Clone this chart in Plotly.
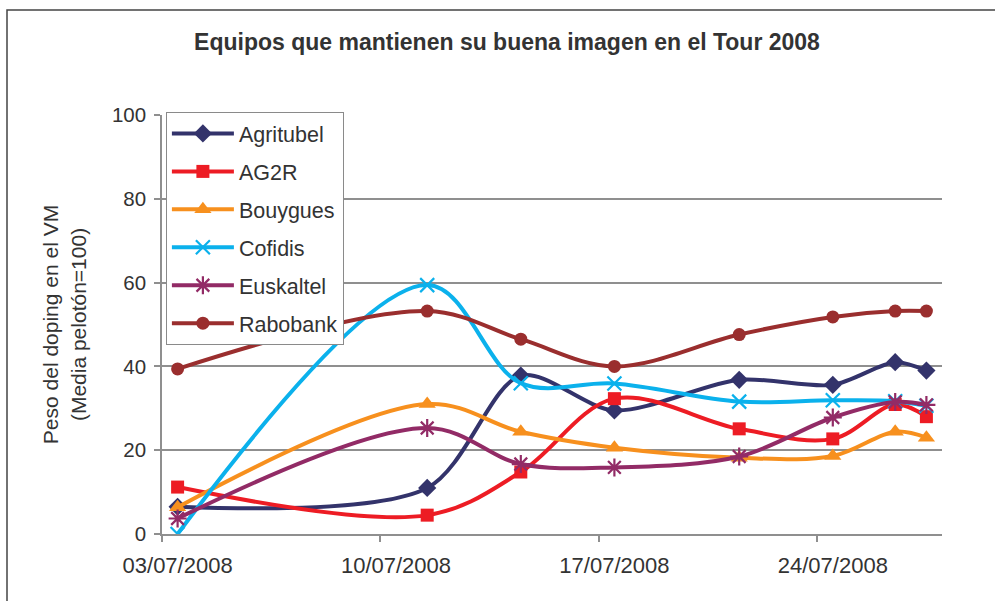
import plotly.graph_objects as go

dates = ["2008-07-03", "2008-07-11", "2008-07-14", "2008-07-17",
         "2008-07-21", "2008-07-24", "2008-07-26", "2008-07-27"]

agritubel = [6.5, 11.0, 37.8, 29.5, 36.8, 35.6, 41.0, 39.0]
ag2r      = [11.2, 4.5, 14.8, 32.3, 25.1, 22.7, 30.9, 28.0]
bouygues  = [6.4, 31.0, 24.4, 20.6, 18.2, 18.6, 24.4, 23.0]
cofidis   = [0.0, 59.4, 36.0, 35.9, 31.6, 31.9, 31.7, 30.6]
euskaltel = [3.7, 25.3, 16.7, 15.9, 18.5, 27.8, 31.5, 30.8]
rabobank  = [39.4, 53.2, 46.5, 40.0, 47.6, 51.8, 53.2, 53.2]

team_names = ["Agritubel", "AG2R", "Bouygues", "Cofidis", "Euskaltel", "Rabobank"]
team_values = [agritubel, ag2r, bouygues, cofidis, euskaltel, rabobank]

tick_dates = ["2008-07-03", "2008-07-10", "2008-07-17", "2008-07-24"]
tick_labels = ["03/07/2008", "10/07/2008", "17/07/2008", "24/07/2008"]
minor_ticks = ["2008-07-02 12:00", "2008-07-09 12:00", "2008-07-16 12:00", "2008-07-23 12:00"]

title_text = "Equipos que mantienen su buena imagen en el Tour 2008"
y_title = "Peso del doping en el VM<br>(Media pelotón=100)"

colors = ["#33336B", "#ED1C24", "#F7901E", "#0BB1EC", "#922B66", "#9A2E2E"]
symbols = ["diamond", "square", "triangle-up", "x-thin-open", "asterisk-open", "circle"]
sizes = [14, 13, 15, 14, 15, 13]
smooth = [0.85, 1.0, 1.0, 1.0, 1.0, 1.0]

FONT = "Liberation Sans, Arial, sans-serif"
TXT = "#333333"
GRID = "#8f8f8f"

fig = go.Figure()
for i, (name, vals) in enumerate(zip(team_names, team_values)):
    open_sym = symbols[i].endswith("open")
    fig.add_trace(go.Scatter(
        x=dates, y=vals, name=name, mode="lines+markers",
        legendgroup=name,
        line=dict(color=colors[i], width=4, shape="spline", smoothing=smooth[i]),
        marker=dict(symbol=symbols[i], size=sizes[i], color=colors[i],
                    line=dict(width=2.2 if open_sym else 0, color=colors[i])),
        hoverinfo="skip",
    ))

fig.update_layout(
    width=995, height=601,
    margin=dict(l=162, r=53, t=115, b=67),
    paper_bgcolor="white", plot_bgcolor="white",
    font=dict(family=FONT, size=20, color=TXT),
    title=dict(text="<b>" + title_text + "</b>", x=507 / 995, xanchor="center",
               y=1 - 42 / 601, yanchor="middle",
               font=dict(family=FONT, size=23, color=TXT)),
    showlegend=True,
    legend=dict(x=0.005, y=1.0072, xanchor="left", yanchor="top",
                bgcolor="white", bordercolor="#8a8a8a", borderwidth=1,
                font=dict(family=FONT, size=21.5, color=TXT),
                tracegroupgap=7, itemwidth=62),
    xaxis=dict(
        type="date",
        range=["2008-07-02 12:00", "2008-07-27 12:00"],
        tickmode="array", tickvals=tick_dates, ticktext=tick_labels,
        ticks="", showgrid=False, zeroline=False,
        showline=True, linecolor=GRID, linewidth=1.5,
        tickfont=dict(family=FONT, size=22, color=TXT),
        ticklabelstandoff=11,
        minor=dict(tickmode="array", tickvals=minor_ticks, ticks="outside",
                   ticklen=6, tickwidth=1.5, tickcolor=GRID, showgrid=False),
    ),
    yaxis=dict(
        range=[0, 100], tickmode="linear", tick0=0, dtick=20,
        showgrid=True, gridcolor=GRID, gridwidth=1.5,
        zeroline=False, showline=True, linecolor=GRID, linewidth=1.5,
        ticks="outside", ticklen=6, tickwidth=1.5, tickcolor=GRID,
        tickfont=dict(family=FONT, size=20.5, color=TXT),
        ticklabelstandoff=4,
        title=dict(text=y_title, font=dict(family=FONT, size=21, color=TXT), standoff=20),
    ),
    shapes=[dict(type="rect", xref="paper", yref="paper",
                 x0=(7 - 162) / 780, x1=(1010 - 162) / 780,
                 y0=(534 - 620) / 419, y1=(534 - 10) / 419,
                 line=dict(color="#444444", width=1.5), fillcolor="rgba(0,0,0,0)",
                 layer="below")],
)

fig.write_html("out.html", config={"displayModeBar": False},
               post_script="document.body.style.margin='0';document.body.style.overflow='hidden';")
